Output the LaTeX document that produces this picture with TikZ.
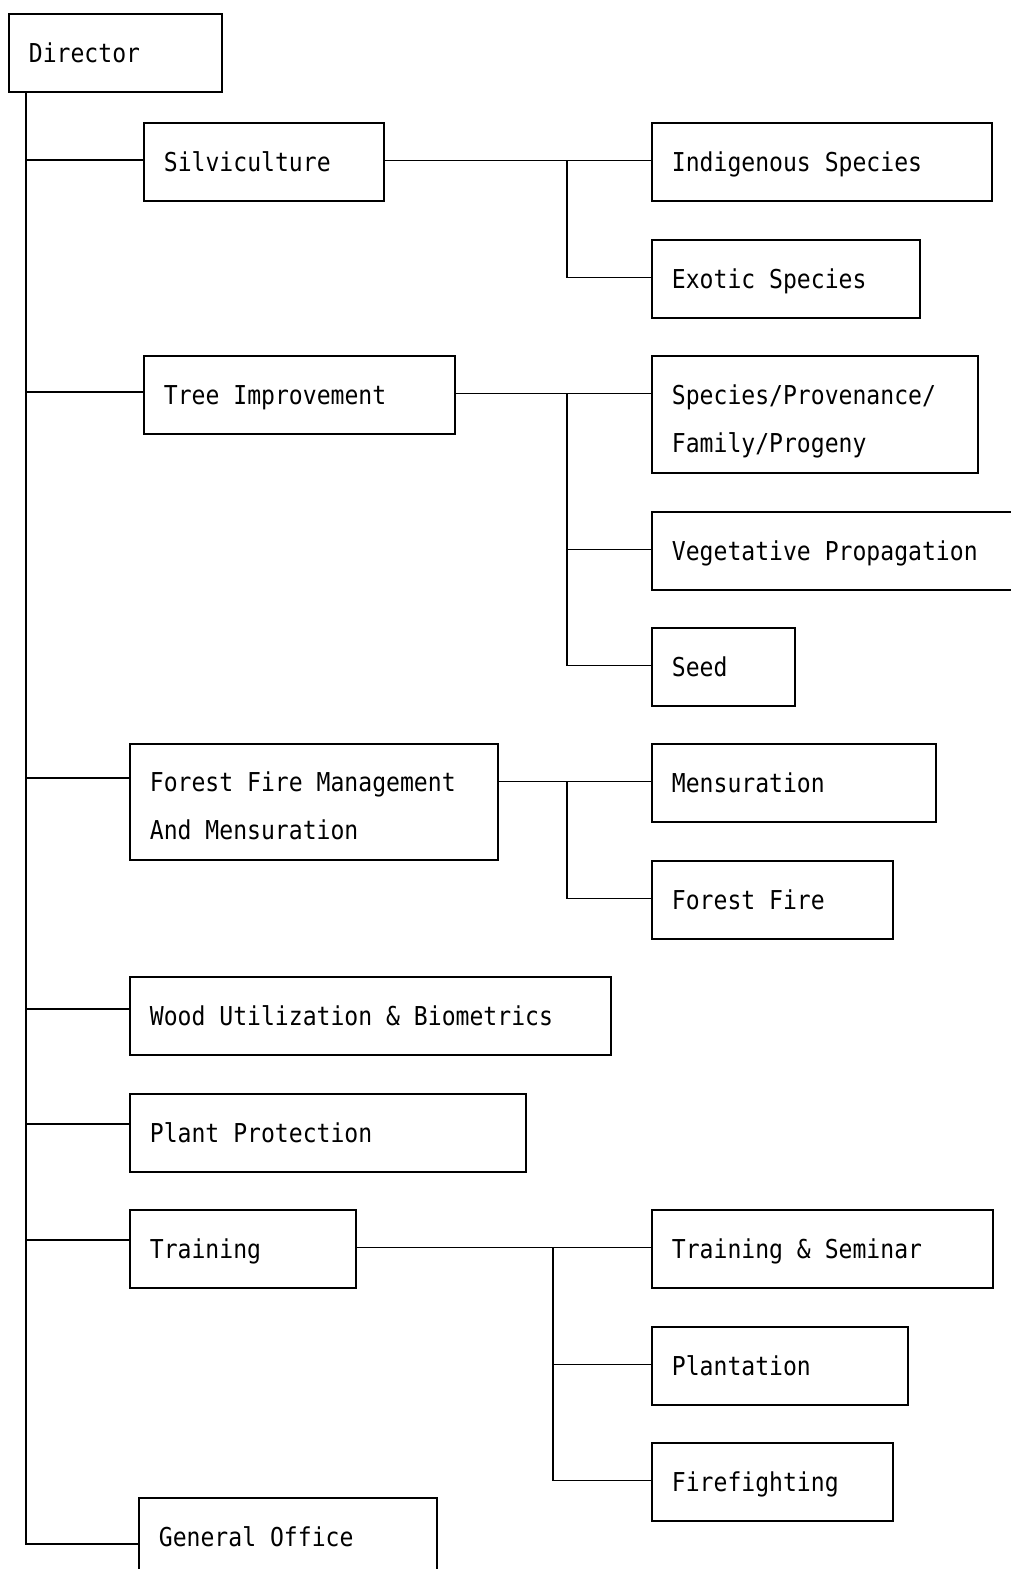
\documentclass[tikz,border=0pt]{standalone}
\usepackage{fontspec}
\usepackage{tikz}
\newfontfamily\orgfont[FakeStretch=0.888]{DejaVu Sans Mono}
\protected\def\unitfont{\orgfont\fontsize{26pt}{48pt}\selectfont\spaceskip=13.9pt\relax}
\tikzstyle{unit}=[draw=black,rectangle,anchor=north west,inner xsep=20pt,inner ysep=0pt,minimum height=78pt,text depth=0pt,align=flush left,font=\unitfont]
\tikzstyle{twoline}=[minimum height=117pt,text depth=40pt]
\tikzstyle{link}=[line width=1.8pt]
\tikzset{every picture/.style={
    line width=1.8pt
  }
}

\begin{document}
\begin{tikzpicture}[x=1pt,y=-1pt]
      \useasboundingbox (0,0) rectangle (1011,1569);
      \node[unit,text width=173pt] at (8,13) (dir) {Director};
      \node[unit,text width=200pt] at (143,122) (silv) {Silviculture};
      \node[unit,text width=300pt] at (651,122) (indig) {Indigenous Species};
      \node[unit,text width=228pt] at (651,239) (exotic) {Exotic Species};
      \node[unit,text width=271pt] at (143,355) (tree) {Tree Improvement};
      \node[unit,twoline,text width=286pt] at (651,355) (spp) {Species/Provenance/\\Family/Progeny};
      \node[unit,text width=330pt] at (651,511) (veg) {Vegetative Propagation};
      \node[unit,text width=103pt] at (651,627) (seed) {Seed};
      \node[unit,twoline,text width=328pt,minimum height=116pt] at (129,743) (ffm) {Forest Fire Management\\And Mensuration};
      \node[unit,text width=244pt] at (651,743) (mens) {Mensuration};
      \node[unit,text width=201pt] at (651,860) (ffire) {Forest Fire};
      \node[unit,text width=441pt] at (129,976) (wood) {Wood Utilization \& Biometrics};
      \node[unit,text width=356pt] at (129,1093) (plant) {Plant Protection};
      \node[unit,text width=186pt] at (129,1209) (train) {Training};
      \node[unit,text width=301pt] at (651,1209) (trsem) {Training \& Seminar};
      \node[unit,text width=216pt] at (651,1326) (plantn) {Plantation};
      \node[unit,text width=201pt] at (651,1442) (firef) {Firefighting};
      \node[unit,text width=258pt] at (138,1497) (office) {General Office};
      \coordinate (trunk) at (26,0);
      \coordinate (jx1) at (567,0);
      \coordinate (jx2) at (553,0);
      \coordinate (office-t) at ([yshift=-47pt]office.north west);
      \foreach \b/\d in {silv/38,tree/37,ffm/35,wood/33,plant/31,train/31}
        \coordinate (\b-t) at ([yshift=-\d pt]\b.north west);
      \foreach \b in {silv,tree,ffm,train}
        \coordinate (\b-r) at ([yshift=-38.5pt]\b.north east);
      \foreach \b in {indig,exotic,spp,veg,seed,mens,ffire,trsem,plantn,firef}
        \coordinate (\b-l) at ([yshift=-38.5pt]\b.north west);
      \draw[link] (dir.south -| trunk) |- (office-t);
      \foreach \b in {silv,tree,ffm,wood,plant,train}
        \draw[link] (\b-t -| trunk) -- (\b-t);
      \foreach \p/\c/\j in {silv/indig/jx1,silv/exotic/jx1,tree/spp/jx1,tree/veg/jx1,tree/seed/jx1,ffm/mens/jx1,ffm/ffire/jx1,train/trsem/jx2,train/plantn/jx2,train/firef/jx2}
        \draw[link] (\p-r) -- (\p-r -| \j) |- (\c-l);
    \end{tikzpicture}
\end{document}
